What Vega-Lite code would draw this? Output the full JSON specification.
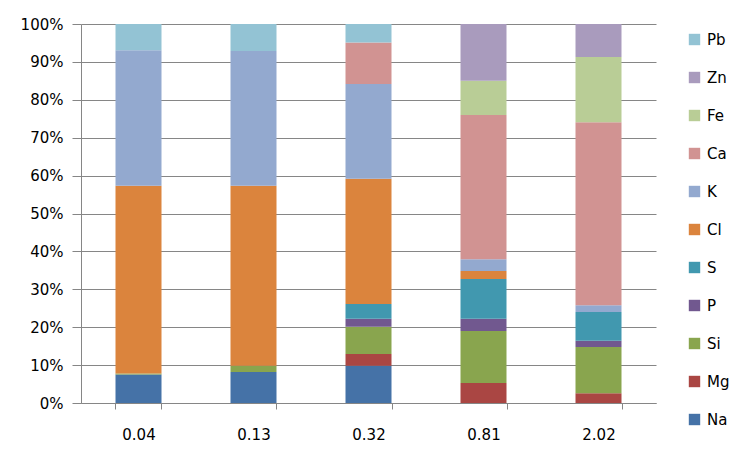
{
  "$schema": "https://vega.github.io/schema/vega-lite/v6.json",
  "autosize": "none",
  "width": 575,
  "height": 379,
  "padding": {"left": 81, "top": 24, "right": 100, "bottom": 53},
  "background": "white",
  "config": {
    "font": "DejaVu Sans",
    "view": {"stroke": null},
    "axis": {"labelFont": "DejaVu Sans", "labelFontSize": 15, "labelColor": "#000000", "domainColor": "#868686", "tickColor": "#868686", "gridColor": "#868686", "titleFontSize": 15}
  },
  "data": {
    "values": [
      {"x": "0.04", "el": "Na", "rank": 1, "v": 7.5},
      {"x": "0.04", "el": "Si", "rank": 3, "v": 0.3},
      {"x": "0.04", "el": "Cl", "rank": 6, "v": 49.5},
      {"x": "0.04", "el": "K", "rank": 7, "v": 35.8},
      {"x": "0.04", "el": "Pb", "rank": 11, "v": 6.9},
      {"x": "0.13", "el": "Na", "rank": 1, "v": 8.2},
      {"x": "0.13", "el": "Si", "rank": 3, "v": 1.6},
      {"x": "0.13", "el": "Cl", "rank": 6, "v": 47.5},
      {"x": "0.13", "el": "K", "rank": 7, "v": 35.6},
      {"x": "0.13", "el": "Pb", "rank": 11, "v": 7.1},
      {"x": "0.32", "el": "Na", "rank": 1, "v": 9.8},
      {"x": "0.32", "el": "Mg", "rank": 2, "v": 3.1},
      {"x": "0.32", "el": "Si", "rank": 3, "v": 7.2},
      {"x": "0.32", "el": "P", "rank": 4, "v": 2.1},
      {"x": "0.32", "el": "S", "rank": 5, "v": 3.9},
      {"x": "0.32", "el": "Cl", "rank": 6, "v": 33.1},
      {"x": "0.32", "el": "K", "rank": 7, "v": 25.0},
      {"x": "0.32", "el": "Ca", "rank": 8, "v": 10.9},
      {"x": "0.32", "el": "Pb", "rank": 11, "v": 4.9},
      {"x": "0.81", "el": "Mg", "rank": 2, "v": 5.3},
      {"x": "0.81", "el": "Si", "rank": 3, "v": 13.7},
      {"x": "0.81", "el": "P", "rank": 4, "v": 3.2},
      {"x": "0.81", "el": "S", "rank": 5, "v": 10.5},
      {"x": "0.81", "el": "Cl", "rank": 6, "v": 2.1},
      {"x": "0.81", "el": "K", "rank": 7, "v": 3.1},
      {"x": "0.81", "el": "Ca", "rank": 8, "v": 38.1},
      {"x": "0.81", "el": "Fe", "rank": 9, "v": 9.0},
      {"x": "0.81", "el": "Zn", "rank": 10, "v": 15.0},
      {"x": "2.02", "el": "Mg", "rank": 2, "v": 2.6},
      {"x": "2.02", "el": "Si", "rank": 3, "v": 12.2},
      {"x": "2.02", "el": "P", "rank": 4, "v": 1.6},
      {"x": "2.02", "el": "S", "rank": 5, "v": 7.6},
      {"x": "2.02", "el": "K", "rank": 7, "v": 1.8},
      {"x": "2.02", "el": "Ca", "rank": 8, "v": 48.3},
      {"x": "2.02", "el": "Fe", "rank": 9, "v": 17.2},
      {"x": "2.02", "el": "Zn", "rank": 10, "v": 8.7}
    ]
  },
  "mark": {"type": "bar"},
  "encoding": {
    "x": {
      "field": "x", "type": "nominal", "sort": null,
      "scale": {"paddingInner": 0.6, "paddingOuter": 0.3},
      "axis": {"title": null, "labelAngle": 0, "tickBand": "extent", "tickSize": 6, "labelPadding": 18, "grid": false}
    },
    "y": {
      "field": "v", "type": "quantitative", "stack": "normalize",
      "scale": {"domain": [0, 1], "nice": false},
      "axis": {"title": null, "format": ".0%", "values": [0,0.1,0.2,0.3,0.4,0.5,0.6,0.7,0.8,0.9,1], "labelOverlap": false, "labelFlush": false, "tickSize": 9, "labelPadding": 9, "grid": true}
    },
    "color": {
      "field": "el", "type": "nominal",
      "scale": {
        "domain": ["Pb", "Zn", "Fe", "Ca", "K", "Cl", "S", "P", "Si", "Mg", "Na"],
        "range": ["#93C3D4", "#A99BBD", "#B9CD96", "#D19392", "#93A9CF", "#DB843D", "#4198AF", "#71588F", "#89A54E", "#AA4643", "#4572A7"]
      },
      "legend": {
        "title": null, "orient": "none", "legendX": 606, "legendY": 8,
        "symbolType": "square", "symbolSize": 130, "symbolStrokeWidth": 0,
        "labelFont": "DejaVu Sans", "labelFontSize": 15, "labelColor": "#000000",
        "rowPadding": 22, "labelOffset": 5
      }
    },
    "order": {"field": "rank", "type": "quantitative"}
  }
}
